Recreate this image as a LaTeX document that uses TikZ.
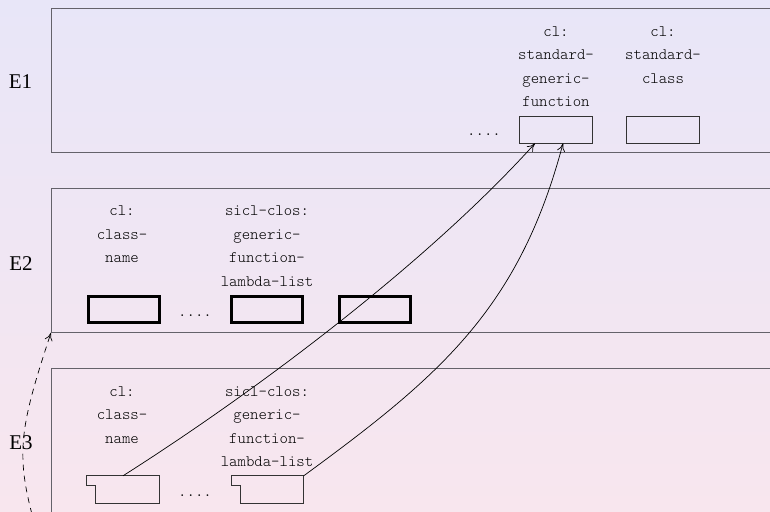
\documentclass[tikz,border=0pt]{standalone}
\usepackage{fontspec}
\setmainfont{Liberation Serif}
\setmonofont{Latin Modern Mono Light}
\usetikzlibrary{calc,arrows.meta}

\definecolor{bgtop}{RGB}{232,230,248}
\definecolor{bgbot}{RGB}{248,230,238}
\definecolor{framegray}{RGB}{100,98,106}

\tikzstyle{envbox} = [draw=framegray, line width=1.2pt, minimum width=760pt, minimum height=144pt, anchor=north west, inner sep=0pt]
\tikzstyle{envlbl} = [font=\fontsize{21}{21}\selectfont, inner sep=0pt]
\tikzstyle{symtext} = [font=\ttfamily\fontsize{16}{23.5}\selectfont, text=black, align=center, anchor=north, inner sep=0pt]
\tikzstyle{ellip} = [font=\ttfamily\fontsize{16}{16}\selectfont, text=black, anchor=base, inner sep=0pt]
\tikzstyle{cellbox} = [draw=black!80, line width=0.8pt, minimum width=73pt, minimum height=27pt, inner sep=0pt]
\tikzstyle{thickbox} = [draw=black, line width=3pt, minimum width=71pt, minimum height=26pt, inner sep=0pt]
\tikzstyle{notched} = [minimum width=72pt, minimum height=27pt, inner sep=0pt]
\tikzstyle{link} = [->, line width=0.7pt]

\newcommand{\notchbox}[1]{\draw[line width=0.8pt, draw=black!80] (#1.north west) -- (#1.north east) -- (#1.south east) -- ($(#1.south west)+(9,0)$) -- ++(0,-18) -- ++(-9,0) -- cycle;}

\begin{document}
\begin{tikzpicture}[x=1pt, y=-1pt, >={To[length=8pt,width=8pt]}]
\useasboundingbox (0,0) rectangle (770,511);
\clip (0,0) rectangle (770,511);
\shade[top color=bgtop, bottom color=bgbot] (0,0) rectangle (770,511);

\node[envbox] (e1) at (51,8) {};
\node[envbox] (e2) at (51,187.5) {};
\node[envbox] (e3) at (51,368) {};

\node[envlbl] (e1lbl) at (20.5,82) {E1};
\node[envlbl] (e2lbl) at (21,263.5) {E2};
\node[envlbl] (e3lbl) at (21,442.5) {E3};

% E1
\node[symtext] (sgflbl) at (556,26.3) {cl:\\standard-\\generic-\\function};
\node[symtext] (sclbl) at (663,26.3) {cl:\\standard-\\class};
\node[ellip] (dots1) at (484,135) {....};
\node[cellbox] (sgf) at (556,129.5) {};
\node[cellbox] (sc) at (663,129.5) {};

% E2
\node[symtext] (cn2lbl) at (122,205.8) {cl:\\class-\\name};
\node[symtext] (gf2lbl) at (267,205.8) {sicl-clos:\\generic-\\function-\\lambda-list};
\node[thickbox] (cn2) at (123.5,309.5) {};
\node[ellip] (dots2) at (195,316) {....};
\node[thickbox] (gf2) at (267,309.5) {};
\node[thickbox] (x2) at (375,309.5) {};

% E3
\node[symtext] (cn3lbl) at (122,386.3) {cl:\\class-\\name};
\node[symtext] (gf3lbl) at (267,386.3) {sicl-clos:\\generic-\\function-\\lambda-list};
\node[notched] (cn3) at (123,489.5) {};
\node[ellip] (dots3) at (195,496) {....};
\node[notched] (gf3) at (267.5,489.5) {};
\notchbox{cn3}
\notchbox{gf3}

\draw[link] (cn3.north) .. controls (258,390) and (428,262) .. ($(sgf.south)+(-21,0)$);
\draw[link] (gf3.north east) .. controls (440,376) and (519,309) .. ($(sgf.south)+(7,0)$);
\coordinate (e4) at (51,577);
\draw[link, dash pattern=on 6pt off 5pt] (e4) .. controls (14,462) and (13,448) .. (e2.south west);
\end{tikzpicture}
\end{document}
